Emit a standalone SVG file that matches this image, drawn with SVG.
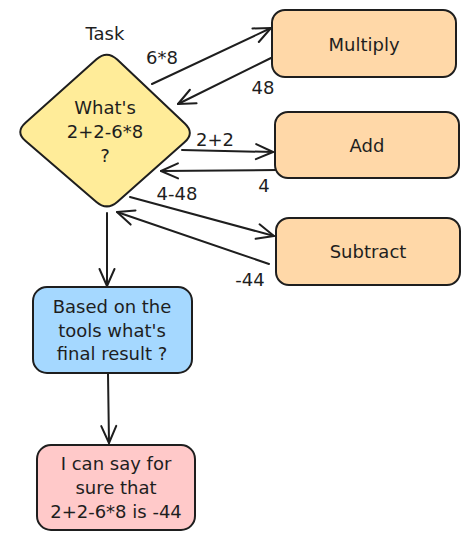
<svg xmlns="http://www.w3.org/2000/svg" width="470" height="540" viewBox="0 0 470 540">
<style>
.node{stroke:#1e1e1e;stroke-width:2;stroke-linejoin:round}
.t{font-family:"DejaVu Sans","Liberation Sans",sans-serif;font-size:18px;fill:#1e1e1e;text-anchor:middle;dominant-baseline:central}
.conn{stroke:#1e1e1e;stroke-width:2;fill:none;stroke-linecap:round;marker-end:url(#arr)}
</style>
<defs>
<marker id="arr" markerUnits="userSpaceOnUse" markerWidth="22" markerHeight="22" viewBox="0 0 22 22" refX="19" refY="11" orient="auto">
<path d="M2,3.5 L19,11 L2,18.5" fill="none" stroke="#1e1e1e" stroke-width="2" stroke-linecap="round" stroke-linejoin="round"/>
</marker>
</defs>
<rect width="470" height="540" fill="#ffffff"/>
<g id="connectors">
<line class="conn" x1="152" y1="84" x2="271" y2="28"/>
<line class="conn" x1="271" y1="58" x2="178" y2="104"/>
<line class="conn" x1="182" y1="150" x2="273" y2="152"/>
<line class="conn" x1="277" y1="170" x2="161" y2="171"/>
<line class="conn" x1="130" y1="197" x2="274" y2="236"/>
<line class="conn" x1="269" y1="264" x2="117" y2="212"/>
<line class="conn" x1="107" y1="213" x2="107" y2="286"/>
<line class="conn" x1="108" y1="374" x2="109" y2="443"/>
<text class="t" x="162" y="57">6*8</text>
<text class="t" x="263" y="87">48</text>
<text class="t" x="215" y="139">2+2</text>
<text class="t" x="264" y="185">4</text>
<text class="t" x="177" y="193">4-48</text>
<text class="t" x="250" y="279">-44</text>
</g>
<g id="task">
<text class="t" x="105" y="33">Task</text>
<path class="node" fill="#ffec99" d="M117.2,59.6 L184.8,123.4 Q195,133 184.5,142.3 L117.5,201.7 Q107,211 96.4,201.9 L25.6,141.1 Q15,132 25.5,122.7 L96.5,59.3 Q107,50 117.2,59.6 Z"/>
<text class="t" x="105" y="107">What's</text>
<text class="t" x="105" y="131">2+2-6*8</text>
<text class="t" x="105" y="155">?</text>
</g>
<g id="multiply">
<rect class="node" fill="#ffd8a8" x="272" y="10" width="184" height="67" rx="13"/>
<text class="t" x="364" y="44">Multiply</text>
</g>
<g id="add">
<rect class="node" fill="#ffd8a8" x="275" y="112" width="184" height="66" rx="13"/>
<text class="t" x="367" y="145">Add</text>
</g>
<g id="subtract">
<rect class="node" fill="#ffd8a8" x="276" y="218" width="184" height="67" rx="13"/>
<text class="t" x="368" y="251">Subtract</text>
</g>
<g id="final">
<rect class="node" fill="#a5d8ff" x="33" y="287" width="159" height="86" rx="14"/>
<text class="t" x="112" y="306">Based on the</text>
<text class="t" x="112" y="330">tools what's</text>
<text class="t" x="112" y="353">final result ?</text>
</g>
<g id="answer">
<rect class="node" fill="#ffc9c9" x="37" y="445" width="158" height="85" rx="14"/>
<text class="t" x="116" y="463">I can say for</text>
<text class="t" x="116" y="487">sure that</text>
<text class="t" x="116" y="511">2+2-6*8 is -44</text>
</g>
</svg>
